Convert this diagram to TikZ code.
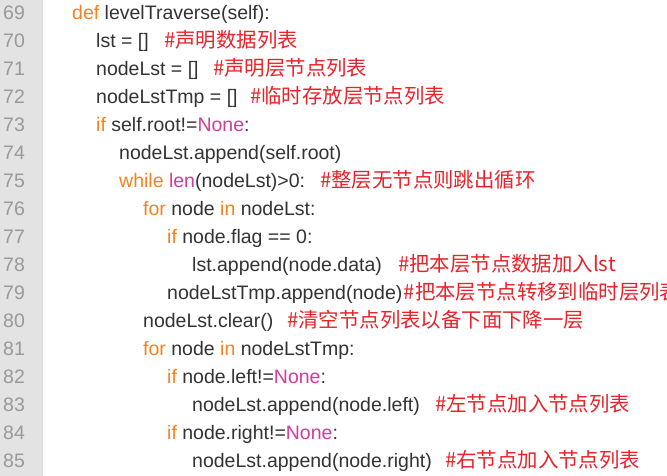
\documentclass[tikz,border=0pt]{standalone}
\usepackage{fontspec}
\setmainfont{Liberation Sans}
\newfontfamily\cjk{Noto Sans CJK SC}
\usetikzlibrary{positioning}

\definecolor{guttergray}{HTML}{E3E3E3}
\definecolor{numgray}{HTML}{999999}
\definecolor{codegray}{HTML}{333333}
\definecolor{kworange}{HTML}{F58220}
\definecolor{nonepink}{HTML}{D43C9C}
\definecolor{notered}{HTML}{E8232A}

\newcommand{\kw}[1]{\textcolor{kworange}{#1}}
\newcommand{\kn}[1]{\textcolor{nonepink}{#1}}

\begin{document}
\begin{tikzpicture}[x=1pt,y=-1pt,
  num node/.style={anchor=base west,inner sep=0pt,text=numgray,font=\fontsize{19.5}{22}\selectfont},
  code node/.style={anchor=base west,inner sep=0pt,text=codegray,font=\fontsize{19.5}{22}\selectfont},
  note node/.style={anchor=base west,inner sep=0pt,text=notered,font=\cjk\fontsize{20.4}{22}\selectfont}]
  \useasboundingbox (0,0) rectangle (667,476);
  \clip (0,0) rectangle (667,476);
  \fill[white] (0,0) rectangle (667,476);
  \fill[guttergray] (0,0) rectangle (43,476);

  % line numbers
  \foreach \n in {69,...,85}
    \node[num node] (n\n) at (3,{20+27.94*(\n-69)}) {\n};

  % code
  \node[code node] (l69) at (72,20) {\kw{def} levelTraverse(self):};
  \node[code node] (l70) at (96,48) {lst = []};
  \node[code node] (l71) at (96,76) {nodeLst = []};
  \node[code node] (l72) at (96,103.8) {nodeLstTmp = []};
  \node[code node] (l73) at (96,131.8) {\kw{if} self.root!=\kn{None}:};
  \node[code node] (l74) at (119,159.7) {nodeLst.append(self.root)};
  \node[code node] (l75) at (119,187.6) {\kw{while} \kn{len}(nodeLst)>0:};
  \node[code node] (l76) at (143,215.6) {\kw{for} node \kw{in} nodeLst:};
  \node[code node] (l77) at (167,243.5) {\kw{if} node.flag == 0:};
  \node[code node] (l78) at (192,271.5) {lst.append(node.data)};
  \node[code node] (l79) at (167,299.4) {nodeLstTmp.append(node)};
  \node[code node] (l80) at (143,327.3) {nodeLst.clear()};
  \node[code node] (l81) at (143,355.3) {\kw{for} node \kw{in} nodeLstTmp:};
  \node[code node] (l82) at (167,383.2) {\kw{if} node.left!=\kn{None}:};
  \node[code node] (l83) at (192,411.2) {nodeLst.append(node.left)};
  \node[code node] (l84) at (167,439.1) {\kw{if} node.right!=\kn{None}:};
  \node[code node] (l85) at (192,467) {nodeLst.append(node.right)};

  % comments
  \node[note node] (c70) at (164,48) {\#声明数据列表};
  \node[note node] (c71) at (213,76) {\#声明层节点列表};
  \node[note node] (c72) at (250,103.8) {\#临时存放层节点列表};
  \node[note node] (c75) at (320,187.6) {\#整层无节点则跳出循环};
  \node[note node] (c78) at (398,271.5) {\#把本层节点数据加入lst};
  \node[note node] (c79) [right=1pt of l79.base east,anchor=base west] {\#把本层节点转移到临时层列表};
  \node[note node] (c80) at (287,327.3) {\#清空节点列表以备下面下降一层};
  \node[note node] (c83) at (435,411.2) {\#左节点加入节点列表};
  \node[note node] (c85) at (445,467) {\#右节点加入节点列表};
\end{tikzpicture}
\end{document}
